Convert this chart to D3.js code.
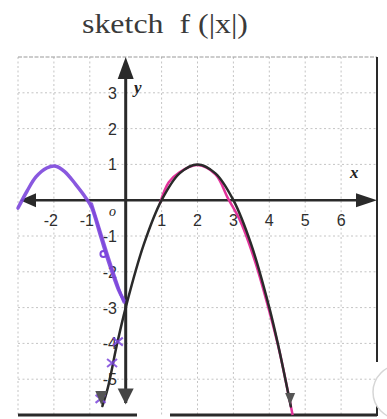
<!DOCTYPE html>
<html>
<head>
<meta charset="utf-8">
<script src="https://cdn.jsdelivr.net/npm/d3@7"></script>
<style>
  html, body { margin: 0; padding: 0; background: #fff; }
  svg { display: block; }
</style>
</head>
<body>
<svg id="chart" width="387" height="419"></svg>
<script>
// Grid ticks
const xTicks = [-3, -2, -1, 0, 1, 2, 3, 4, 5, 6, 7];
const yTicks = [-5, -4, -3, -2, -1, 0, 1, 2, 3, 4];
const xLabels = [-2, -1, 1, 2, 3, 4, 5, 6];
const yLabels = [3, 2, 1, -1, -2, -3, -4, -5];

// f(x): downward parabola, vertex (2, 1), roots 1 and 3
const fX = [-0.65, -0.5, -0.25, 0, 0.5, 1, 1.5, 2, 2.5, 3, 3.5, 4, 4.25, 4.6];
const fY = [-5.75, -5.25, -4.06, -3, -1.25, 0, 0.75, 1, 0.75, 0, -1.25, -3, -4.06, -5.76];

// pink trace over the right half
const pinkX = [0.95, 1.2, 1.5, 2, 2.5, 2.85, 3.2, 3.6, 4.0, 4.3, 4.65];
const pinkY = [-0.1, 0.5, 0.78, 0.98, 0.72, 0.05, -0.6, -1.7, -3.1, -4.3, -6.0];

// f(|x|) sketched on the left half
const purpleX = [-3.0, -2.75, -2.5, -2.2, -1.95, -1.7, -1.4, -1.1, -0.95, -0.7, -0.45, -0.2, -0.05];
const purpleY = [-0.22, 0.25, 0.65, 0.9, 0.95, 0.8, 0.45, 0.05, -0.2, -1.0, -1.8, -2.5, -2.8];
const purple2X = [-0.95, -0.7, -0.45, -0.2, -0.05];
const purple2Y = [-0.1, -0.9, -1.7, -2.45, -2.85];

// marks along the lower-left branch
const crossX = [-0.22, -0.38, -0.7];
const crossY = [-3.95, -4.55, -5.55];

const svg = d3.select("#chart");
const x = d3.scaleLinear().domain([-3, 7]).range([18, 377]);
const y = d3.scaleLinear().domain([-6, 4]).range([415, 57]);

const ink = "#2a2a2a";
const purple = "#7c46dc";
const pink = "#e2339a";

// title
svg.append("text")
  .attr("x", 82).attr("y", 33)
  .attr("textLength", 166).attr("lengthAdjust", "spacingAndGlyphs")
  .style("white-space", "pre")
  .attr("font-family", "Liberation Serif, Times New Roman, serif")
  .attr("font-size", 28).attr("fill", "#3a3a3a")
  .text("sketch  f (|x|)");

// grid
const grid = svg.append("g").attr("stroke", "#c4c4c4").attr("stroke-width", 1)
  .attr("stroke-dasharray", "2,2.5");
grid.selectAll("line.v").data(xTicks.filter(d => d !== 0 && d !== 7)).join("line")
  .attr("class", "v")
  .attr("x1", d => x(d)).attr("x2", d => x(d))
  .attr("y1", y(4)).attr("y2", y(-6));
grid.selectAll("line.h").data(yTicks.filter(d => d !== 0 && d !== 4)).join("line")
  .attr("class", "h")
  .attr("x1", x(-3)).attr("x2", x(7))
  .attr("y1", d => y(d)).attr("y2", d => y(d));

// frame
svg.append("line").attr("x1", x(-3)).attr("x2", x(7)).attr("y1", y(4)).attr("y2", y(4))
  .attr("stroke", "#9a9a9a").attr("stroke-width", 1.2).attr("stroke-dasharray", "4,1.5");
svg.append("line").attr("x1", x(7)).attr("x2", x(7)).attr("y1", y(4)).attr("y2", 362)
  .attr("stroke", ink).attr("stroke-width", 2);
svg.append("line").attr("x1", x(7)).attr("x2", x(7)).attr("y1", 405).attr("y2", 416)
  .attr("stroke", ink).attr("stroke-width", 2);
svg.append("line").attr("x1", x(-3)).attr("x2", 137).attr("y1", y(-6)).attr("y2", y(-6))
  .attr("stroke", ink).attr("stroke-width", 3);
svg.append("line").attr("x1", 170).attr("x2", x(7)).attr("y1", y(-6)).attr("y2", y(-6))
  .attr("stroke", ink).attr("stroke-width", 3);
svg.append("circle").attr("cx", 400).attr("cy", 392).attr("r", 27)
  .attr("fill", "#fff").attr("stroke", "#d6d6d6").attr("stroke-width", 1.5);

// axes
svg.append("line").attr("x1", x(-3) + 10).attr("x2", x(7) - 10)
  .attr("y1", y(0)).attr("y2", y(0)).attr("stroke", ink).attr("stroke-width", 2.5);
svg.append("line").attr("x1", x(0)).attr("x2", x(0))
  .attr("y1", y(4) + 12).attr("y2", y(-6) - 12).attr("stroke", ink).attr("stroke-width", 3);

function tri(tip, dir, len, half, fill) {
  const [tx, ty] = tip;
  let pts;
  if (dir === "up") pts = [[tx, ty], [tx - half, ty + len], [tx + half, ty + len]];
  if (dir === "down") pts = [[tx, ty], [tx - half, ty - len], [tx + half, ty - len]];
  if (dir === "left") pts = [[tx, ty], [tx + len, ty - half], [tx + len, ty + half]];
  if (dir === "right") pts = [[tx, ty], [tx - len, ty - half], [tx - len, ty + half]];
  svg.append("path").attr("d", d3.line()(pts) + "Z").attr("fill", fill);
}
tri([x(0), y(4)], "up", 22, 8, ink);
tri([x(0), y(-5.65) + 2], "down", 16, 8, "#444");
tri([x(7), y(0)], "right", 21, 7, ink);
tri([x(-3) + 2, y(0)], "left", 16, 7, ink);

// labels
const lab = svg.append("g").attr("font-family", "Liberation Sans, Arial, sans-serif")
  .attr("font-size", 16).attr("fill", "#2e2e2e");
lab.selectAll("text.x").data(xLabels).join("text").attr("class", "x")
  .attr("x", d => x(d) + (d < 0 ? -3 : 0)).attr("y", 226).attr("text-anchor", "middle")
  .text(d => d);
lab.selectAll("text.y").data(yLabels).join("text").attr("class", "y")
  .attr("x", 117).attr("y", d => y(d) + 6).attr("text-anchor", "end")
  .text(d => d);

const it = svg.append("g").attr("font-family", "Liberation Serif, Times New Roman, serif")
  .attr("font-style", "italic").attr("fill", "#222");
it.append("text").attr("x", 134).attr("y", 93).attr("font-size", 17).attr("font-weight", "bold").text("y");
it.append("text").attr("x", 350).attr("y", 178).attr("font-size", 17).attr("font-weight", "bold").text("x");
it.append("text").attr("x", 109).attr("y", 216).attr("font-size", 14).text("o");

// curves
const line = d3.line().x(d => x(d[0])).y(d => y(d[1])).curve(d3.curveCatmullRom);

svg.append("path").datum(purpleX.map((v, i) => [v, purpleY[i]]))
  .attr("d", line).attr("fill", "none").attr("stroke", purple)
  .attr("stroke-width", 3.5).attr("stroke-linecap", "round").attr("opacity", 0.9);
svg.append("path").datum(purple2X.map((v, i) => [v, purple2Y[i]]))
  .attr("d", line).attr("fill", "none").attr("stroke", purple)
  .attr("stroke-width", 3).attr("stroke-linecap", "round").attr("opacity", 0.85);
svg.append("circle").attr("cx", x(-0.62)).attr("cy", y(-1.5)).attr("r", 3)
  .attr("fill", "none").attr("stroke", purple).attr("stroke-width", 2);

svg.append("path").datum(pinkX.map((v, i) => [v, pinkY[i]]))
  .attr("d", line).attr("fill", "none").attr("stroke", pink).attr("stroke-width", 2.5);

svg.append("path").datum(fX.map((v, i) => [v, fY[i]]))
  .attr("d", line).attr("fill", "none").attr("stroke", ink)
  .attr("stroke-width", 2.5).attr("stroke-linecap", "round");

// purple crosses
crossX.forEach((cx, i) => {
  const px = x(cx), py = y(crossY[i]);
  svg.append("path")
    .attr("d", `M${px - 5},${py - 4}L${px + 5},${py + 4}M${px - 5},${py + 4}L${px + 5},${py - 4}`)
    .attr("stroke", purple).attr("stroke-width", 2).attr("opacity", 0.85);
});

// arrowheads at the ends of f
tri([x(-0.68), y(-5.72)], "down", 14, 6, "#555");
tri([x(4.58), y(-5.72)], "down", 12, 5, "#555");
</script>
</body>
</html>
